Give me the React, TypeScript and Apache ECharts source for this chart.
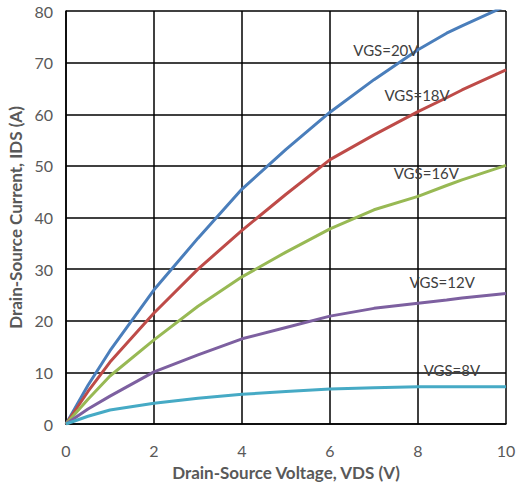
import React, { useEffect, useRef } from "react";
import * as echarts from "echarts";

// Drain-source voltage samples (V)
const vds = [0, 0.5, 1, 2, 3, 4, 5, 6, 7, 8, 8.65, 9, 10];

// Drain current (A) for each gate-source voltage
const ids20 = [0, 7.5, 14.2, 26, 36, 45.5, 53.2, 60.4, 66.7, 72.5, 75.7, 77.1, 81];
const ids18 = [0, 6.3, 12, 21.5, 30, 37.5, 44.5, 51.2, 56, 60.5, 63.2, 64.7, 68.6];
const ids16 = [0, 4.8, 9.3, 16.3, 22.8, 28.5, 33.3, 37.8, 41.5, 44.1, 46.2, 47.3, 50.1];
const ids12 = [0, 2.9, 5.4, 10.1, 13.4, 16.5, 18.7, 20.9, 22.4, 23.4, 24, 24.4, 25.3];
const ids8 = [0, 1.5, 2.7, 4.0, 5.0, 5.75, 6.3, 6.8, 7.0, 7.2, 7.2, 7.2, 7.2];

const seriesNames = ["VGS=20V", "VGS=18V", "VGS=16V", "VGS=12V", "VGS=8V"];
const seriesValues = [ids20, ids18, ids16, ids12, ids8];
const seriesColors = ["#4A7EBB", "#BE4B48", "#98B954", "#7D60A0", "#46AAC5"];
// Where each curve's name is written, in axis units
const labelAnchors = [
  [7.27, 72.4],
  [7.98, 63.7],
  [8.19, 48.6],
  [8.55, 27.6],
  [8.77, 10.5],
];

const FONT = "Lato";

export default function App() {
  const ref = useRef<HTMLDivElement>(null);

  useEffect(() => {
    document.body.style.margin = "0";
    if (!ref.current) return;
    const chart = echarts.init(ref.current, undefined, { renderer: "svg" });

    const series = seriesNames.map((name, i) => ({
      name,
      type: "line",
      data: vds.map((x, j) => [x, seriesValues[i][j]]),
      showSymbol: false,
      symbol: "none",
      clip: true,
      lineStyle: { color: seriesColors[i], width: 3 },
      itemStyle: { color: seriesColors[i] },
      z: 3,
      markPoint: {
        symbol: "circle",
        symbolSize: 0,
        silent: true,
        data: [{ coord: labelAnchors[i], value: name }],
        label: {
          show: true,
          position: "inside",
          formatter: name,
          color: "#404040",
          fontFamily: FONT,
          fontSize: 15,
        },
      },
    }));

    chart.setOption({
      animation: false,
      backgroundColor: "#ffffff",
      grid: {
        left: 66,
        right: 10,
        top: 11,
        bottom: 64,
        containLabel: false,
        outerBoundsMode: "none",
      },
      xAxis: {
        type: "value",
        min: 0,
        max: 10,
        interval: 2,
        name: "Drain-Source Voltage, VDS (V)",
        nameLocation: "middle",
        nameGap: 40,
        nameTextStyle: { color: "#595959", fontFamily: FONT, fontSize: 17, fontWeight: "bold" },
        axisLine: { show: true, lineStyle: { color: "#000", width: 1.5 } },
        axisTick: { show: false },
        axisLabel: { color: "#595959", fontFamily: FONT, fontSize: 16, margin: 18 },
        splitLine: { show: true, lineStyle: { color: "#000", width: 1.5 } },
      },
      yAxis: {
        type: "value",
        min: 0,
        max: 80,
        interval: 10,
        name: "Drain-Source Current, IDS (A)",
        nameLocation: "middle",
        nameGap: 40,
        nameTextStyle: {
          color: "#595959",
          fontFamily: FONT,
          fontSize: 17,
          fontWeight: "bold",
        },
        axisLine: { show: true, lineStyle: { color: "#000", width: 1.5 } },
        axisTick: { show: false },
        axisLabel: { color: "#595959", fontFamily: FONT, fontSize: 16, margin: 13 },
        splitLine: { show: true, lineStyle: { color: "#000", width: 1.5 } },
      },
      series,
    });

    return () => chart.dispose();
  }, []);

  return <div ref={ref} style={{ width: 516, height: 488 }} />;
}
